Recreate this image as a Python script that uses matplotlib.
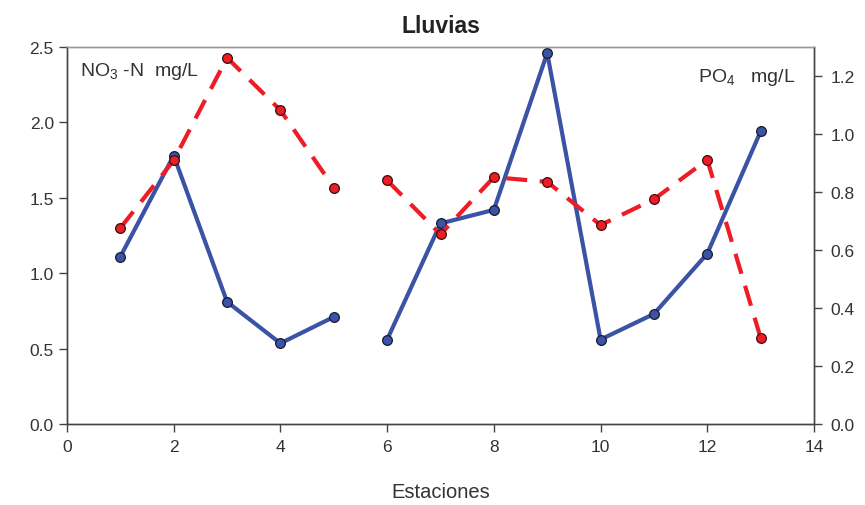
import numpy as np
import matplotlib
matplotlib.use("Agg")
import matplotlib.pyplot as plt

plt.rcParams['font.family'] = ['Liberation Sans', 'DejaVu Sans']
plt.rcParams['mathtext.fontset'] = 'custom'
plt.rcParams['mathtext.rm'] = 'Liberation Sans'
plt.rcParams['mathtext.it'] = 'Liberation Sans'

# Data (break in the series between stations 5 and 6)
stations = [1, 2, 3, 4, 5, 6, 7, 8, 9, 10, 11, 12, 13]
no3_n = [1.11, 1.78, 0.81, 0.535, 0.71, 0.56, 1.33, 1.42, 2.46, 0.56, 0.73, 1.13, 1.94]
po4 = [0.676, 0.909, 1.263, 1.082, 0.815, 0.840, 0.654, 0.851, 0.835, 0.686, 0.775, 0.911, 0.297]
break_after = 5

blue = '#3A53A4'
red = '#EE1C25'
txt = '#333333'

fig = plt.figure(figsize=(8.65, 5.06), dpi=100)
ax = fig.add_axes([67 / 865, 1 - 425 / 506, 747 / 865, 377 / 506])
ax2 = ax.twinx()

st = np.array(stations)
seg1 = st <= break_after
seg2 = st > break_after
for m in (seg1, seg2):
    ax.plot(st[m], np.array(no3_n)[m], color=blue, lw=3.0, marker='o', ms=7,
            mfc=blue, mec='#1a1a2e', mew=0.9, zorder=3)
    ax2.plot(st[m], np.array(po4)[m], color=red, lw=3.0, ls=(0, (5, 3)), marker='o', ms=7,
             mfc=red, mec='#3a1010', mew=0.9, zorder=3)

ax.set_xlim(0, 14)
ax.set_ylim(0, 2.5)
ax2.set_ylim(0, 1.3)
ax.set_xticks(range(0, 15, 2))
ax.set_yticks(np.arange(0, 2.51, 0.5))
ax.set_yticklabels([f'{v:.1f}' for v in np.arange(0, 2.51, 0.5)])
ax2.set_yticks(np.arange(0, 1.21, 0.2))
ax2.set_yticklabels([f'{v:.1f}' for v in np.arange(0, 1.21, 0.2)])

for a in (ax, ax2):
    for s in a.spines.values():
        s.set_color('#444444')
        s.set_linewidth(1.0)
    a.tick_params(direction='out', length=6, width=1, color='#444444',
                  labelsize=12.5, labelcolor=txt)
ax.spines['top'].set_color('#999999')
ax2.spines['top'].set_color('#999999')
ax.tick_params(axis='x', pad=5)
ax2.tick_params(axis='y', pad=6)

ax.set_title('Lluvias', fontsize=16.5, fontweight='bold', color='#222222', pad=11)
ax.set_xlabel('Estaciones', fontsize=14.5, color=txt)
ax.xaxis.set_label_coords(0.5, -(492 - 425) / 377)
ax.xaxis.label.set_va('center')
ax.text(0.018, 0.965, 'NO$_3$ -N  mg/L', transform=ax.transAxes, fontsize=14,
        color=txt, va='top', ha='left')
ax2.text(0.975, 0.95, 'PO$_4$   mg/L', transform=ax.transAxes, fontsize=14,
         color=txt, va='top', ha='right')

fig.savefig('out.png', dpi=100)
